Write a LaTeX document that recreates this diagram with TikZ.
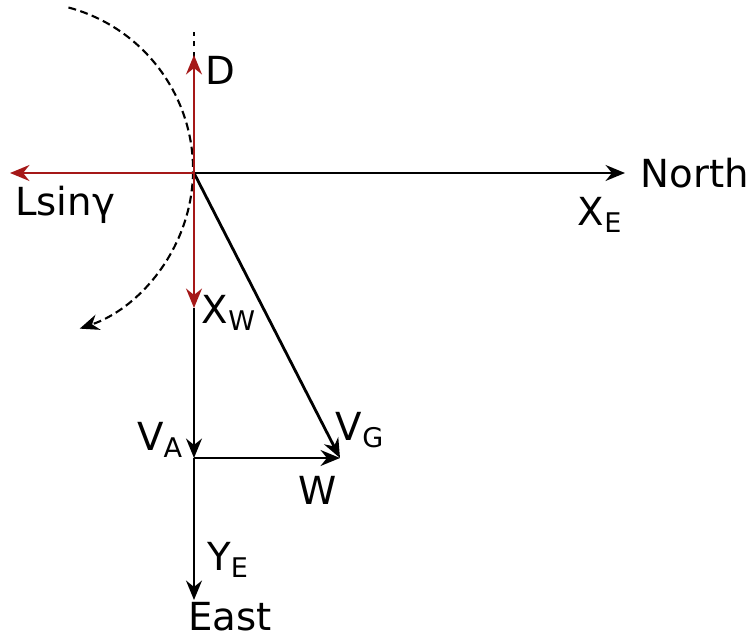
\documentclass[tikz,border=0pt]{standalone}
\usepackage{fontspec}
\setmainfont{DejaVu Sans}
\usetikzlibrary{arrows.meta,positioning}
\definecolor{darkred}{HTML}{A51818}
\tikzset{
  vec/.style={-{Stealth[length=11pt,width=9pt]},line width=1.6pt},
  redvec/.style={vec,darkred},
  lbl/.style={font=\fontsize{22}{26}\selectfont,inner sep=1pt}
}
\begin{document}
\begin{tikzpicture}[x=1cm,y=1cm]
\useasboundingbox (-3.88,-9.36) rectangle (11.16,3.46);
\coordinate (o) at (0,0);
\coordinate (top) at (0,2.82);
\coordinate (d) at (0,2.36);
\coordinate (lift) at (-3.68,0);
\coordinate (north) at (8.62,0);
\coordinate (xw) at (0,-2.7);
\coordinate (va) at (0,-5.7);
\coordinate (w) at (2.92,-5.7);
\coordinate (east) at (0,-8.54);
% dashed turn
\draw[dashed,dash pattern=on 4.5pt off 2.5pt,line width=1.2pt,-{Stealth[length=11pt,width=9pt]}]
  (-2.51,3.31) arc[start angle=75,end angle=-71,radius=3.36];
\draw[dashed,line width=1.2pt] (o)--(top);
% axes and vectors
\draw[vec] (o)--(north);
\draw[vec] (xw)--(va);
\draw[vec] (va)--(east);
\draw[vec] (va)--(w);
\draw[vec] (o)--(w);
\draw[redvec] (o)--(d);
\draw[redvec] (o)--(lift);
\draw[redvec] (o)--(xw);
% labels
\node[lbl] (dlbl) at (0.52,2.06) {D};
\node[lbl] (llbl) at (-2.58,-0.64) {Lsinγ};
\node[lbl] (nlbl) at (10.02,0) {North};
\node[lbl] (xelbl) at (8.12,-0.84) {X\textsubscript{E}};
\node[lbl] (xwlbl) at (0.7,-2.8) {X\textsubscript{W}};
\node[lbl] (valbl) at (-0.68,-5.34) {V\textsubscript{A}};
\node[lbl] (vglbl) at (3.32,-5.14) {V\textsubscript{G}};
\node[lbl] (wlbl) at (2.48,-6.34) {W};
\node[lbl] (yelbl) at (0.68,-7.74) {Y\textsubscript{E}};
\node[lbl] (elbl) at (0.72,-8.88) {East};
\end{tikzpicture}
\end{document}
